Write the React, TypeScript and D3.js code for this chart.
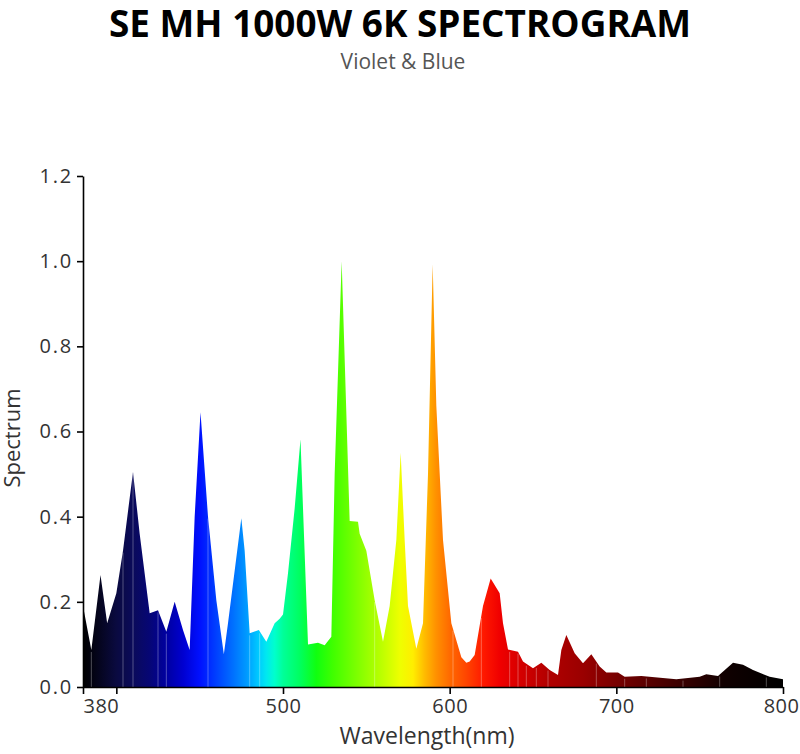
import React, { useEffect, useRef } from 'react';
import * as d3 from 'd3';

// spectrum (nm, relative value)
const wavelengths = [
  380, 385, 390.5, 394.5, 400, 404, 410, 414, 420, 425, 430, 435, 440, 444,
  447, 450.5, 455, 460, 464.5, 467, 475, 477, 480, 485.5, 490, 495, 498,
  500, 503, 507, 510.5, 512, 515, 521, 525, 529, 531, 535.2, 538.5, 540, 545,
  546, 550, 555, 560, 564, 568, 570.6, 573, 575, 580, 584, 587, 589.8, 592,
  596, 601, 607, 610, 612, 615, 620, 624.6, 630, 632, 635, 641, 644, 650,
  655, 660, 665, 667, 670, 675, 680, 685, 690, 694, 701, 705, 715, 736, 750,
  754, 761, 770, 776, 782, 792, 800,
];
const spectrum = [
  0.19, 0.087, 0.263, 0.15, 0.22, 0.32, 0.505, 0.36, 0.173, 0.18, 0.13, 0.2,
  0.134, 0.087, 0.4, 0.645, 0.4, 0.204, 0.077, 0.15, 0.396, 0.32, 0.126, 0.134,
  0.106, 0.15, 0.16, 0.17, 0.267, 0.42, 0.582, 0.42, 0.1, 0.104, 0.098, 0.118,
  0.5, 1.0, 0.58, 0.39, 0.388, 0.36, 0.32, 0.204, 0.106, 0.19, 0.345, 0.55,
  0.345, 0.19, 0.09, 0.15, 0.5, 0.993, 0.66, 0.345, 0.15, 0.07, 0.057, 0.06,
  0.075, 0.19, 0.255, 0.22, 0.15, 0.088, 0.083, 0.06, 0.044, 0.057, 0.04,
  0.028, 0.087, 0.122, 0.079, 0.056, 0.077, 0.048, 0.034, 0.034, 0.024, 0.026,
  0.018, 0.024, 0.03, 0.026, 0.057, 0.052, 0.04, 0.024, 0.018,
];

// colour of the fill along the wavelength axis
const stopNm = [
  380, 390, 400, 410, 420, 430, 440, 450, 460, 470, 478, 485, 490, 495, 500,
  510, 520, 530, 545, 560, 570, 578, 585, 592, 600, 610, 620, 630, 645, 660,
  680, 700, 720, 745, 765, 800,
];
const stopColor = [
  '#000000', '#05051f', '#0a0a40', '#0a0a5a', '#060675', '#0000a0', '#0000d0',
  '#0010ff', '#0040ff', '#0070ff', '#0099ff', '#00c8ff', '#00e8f0', '#00ffcc',
  '#00ff99', '#00ff60', '#10ff10', '#40ff00', '#80ff00', '#c0ff00', '#eeff00',
  '#ffee00', '#ffbb00', '#ff9000', '#ff6a00', '#ff4500', '#ff1a00', '#f00000',
  '#d00000', '#b00000', '#9a0000', '#780000', '#580000', '#300000', '#100000',
  '#000000',
];

// faint light streaks in the original fill
const streakNm = [385, 404, 410, 425, 430, 455, 480, 486, 555, 602, 619, 636, 641, 646, 652, 659, 688, 705, 718, 740, 762, 790];

const xTicks = [380, 400, 500, 600, 700, 800];
const xTickLabels = ['380', '', '500', '600', '700', '800'];
const yTicks = [0, 0.2, 0.4, 0.6, 0.8, 1.0, 1.2];

const App = () => {
  const ref = useRef<SVGSVGElement>(null);

  useEffect(() => {
    const svg = d3.select(ref.current);
    svg.selectAll('*').remove();

    const width = 800;
    const height = 754;
    const margin = { left: 83, right: 17, top: 176, bottom: 67 };

    const x = d3.scaleLinear().domain([380, 800]).range([margin.left, width - margin.right]);
    const y = d3.scaleLinear().domain([0, 1.2]).range([height - margin.bottom, margin.top]);

    const font = "'Open Sans', 'Noto Sans', sans-serif";

    const grad = svg.append('defs').append('linearGradient')
      .attr('id', 'spec')
      .attr('gradientUnits', 'userSpaceOnUse')
      .attr('x1', x(380)).attr('x2', x(800))
      .attr('y1', 0).attr('y2', 0);
    grad.selectAll('stop')
      .data(stopNm)
      .join('stop')
      .attr('offset', d => (d - 380) / 420)
      .attr('stop-color', (d, i) => stopColor[i]);

    const pts = wavelengths.map((w, i) => [w, spectrum[i]] as [number, number]);

    const area = d3.area<[number, number]>()
      .x(d => x(d[0]))
      .y0(y(0))
      .y1(d => y(d[1]));

    svg.append('path')
      .attr('d', area(pts))
      .attr('fill', 'url(#spec)');

    const valueAt = (w: number) => {
      const i = d3.bisectLeft(wavelengths, w);
      if (i <= 0) return spectrum[0];
      const t = (w - wavelengths[i - 1]) / (wavelengths[i] - wavelengths[i - 1]);
      return spectrum[i - 1] + t * (spectrum[i] - spectrum[i - 1]);
    };

    svg.append('g')
      .selectAll('line')
      .data(streakNm)
      .join('line')
      .attr('x1', d => x(d)).attr('x2', d => x(d))
      .attr('y1', y(0)).attr('y2', d => y(valueAt(d)) + 2)
      .attr('stroke', '#ffffff')
      .attr('stroke-opacity', 0.3)
      .attr('stroke-width', 1);

    // axes
    const xAxis = svg.append('g')
      .attr('transform', `translate(0,${y(0)})`)
      .call(d3.axisBottom(x).tickValues(xTicks).tickSize(7).tickSizeOuter(0)
        .tickFormat((d, i) => xTickLabels[i]));
    xAxis.select('.domain').attr('stroke', '#000').attr('stroke-width', 1.6);
    xAxis.selectAll('.tick line').attr('stroke', '#000').attr('stroke-width', 1.6);
    xAxis.selectAll('.tick text')
      .attr('font-family', font).attr('font-size', 20).attr('fill', '#333')
      .attr('letter-spacing', 0.5)
      .attr('y', 12)
      .attr('text-anchor', (d, i) => (i === 0 ? 'start' : i === xTicks.length - 1 ? 'end' : 'middle'))
      .attr('dx', (d, i) => (i === xTicks.length - 1 ? 16 : 0));

    const yAxis = svg.append('g')
      .attr('transform', `translate(${x(380)},0)`)
      .call(d3.axisLeft(y).tickValues(yTicks).tickSize(6).tickSizeOuter(0)
        .tickFormat(d3.format('.1f')));
    yAxis.select('.domain').attr('stroke', '#000').attr('stroke-width', 1.6);
    yAxis.selectAll('.tick line').attr('stroke', '#000').attr('stroke-width', 1.6);
    yAxis.selectAll('.tick text')
      .attr('font-family', font).attr('font-size', 20).attr('fill', '#333')
      .attr('letter-spacing', 1.8)
      .attr('x', -10);

    // titles
    svg.append('text')
      .attr('x', 400).attr('y', 37)
      .attr('text-anchor', 'middle')
      .attr('font-family', font).attr('font-weight', 700).attr('font-size', 38)
      .attr('fill', '#000')
      .attr('textLength', 582).attr('lengthAdjust', 'spacingAndGlyphs')
      .text('SE MH 1000W 6K SPECTROGRAM');

    svg.append('text')
      .attr('x', 403).attr('y', 69)
      .attr('text-anchor', 'middle')
      .attr('font-family', font).attr('font-size', 21)
      .attr('fill', '#555')
      .text('Violet & Blue');

    svg.append('text')
      .attr('transform', `translate(20,438) rotate(-90)`)
      .attr('text-anchor', 'middle')
      .attr('font-family', font).attr('font-size', 22)
      .attr('fill', '#333')
      .text('Spectrum');

    svg.append('text')
      .attr('x', 427).attr('y', 744)
      .attr('text-anchor', 'middle')
      .attr('font-family', font).attr('font-size', 23)
      .attr('fill', '#333')
      .text('Wavelength(nm)');
  }, []);

  return (
    <svg
      ref={ref}
      width="800"
      height="754"
      style={{ position: 'absolute', left: 0, top: 0, background: '#fff' }}
    ></svg>
  );
};

export default App;
